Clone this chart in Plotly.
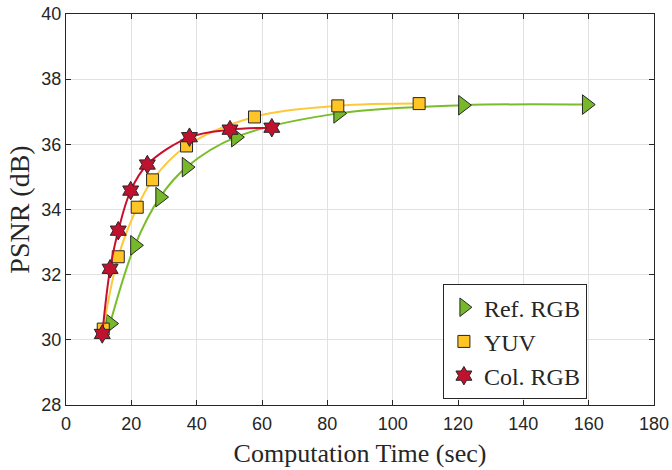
import plotly.graph_objects as go

# Data
ref_x = [13.5, 21.1, 28.8, 36.9, 52.0, 83.3, 121.5, 159.4]
ref_y = [30.50, 32.90, 34.38, 35.30, 36.22, 36.95, 37.20, 37.22]

yuv_x = [11.4, 16.0, 21.8, 26.5, 36.9, 57.7, 83.2, 108.1]
yuv_y = [30.33, 32.55, 34.07, 34.91, 35.95, 36.84, 37.18, 37.25]

col_x = [11.1, 13.5, 16.0, 19.8, 24.9, 37.8, 50.2, 63.0]
col_y = [30.18, 32.18, 33.35, 34.58, 35.38, 36.22, 36.45, 36.51]

series = [
    ("Ref. RGB", ref_x, ref_y, "#7ABD2B", "#76B82A", "triangle-right", 17),
    ("YUV", yuv_x, yuv_y, "#FFC83A", "#FFC526", "square", 12),
    ("Col. RGB", col_x, col_y, "#C8102E", "#C0122F", "hexagram", 14),
]

fig = go.Figure()
for name, xs, ys, lc, mc, sym, sz in series:
    fig.add_trace(go.Scatter(
        x=xs, y=ys, name=name, mode="lines", showlegend=False,
        line=dict(color=lc, width=2, shape="spline", smoothing=1.0),
        hoverinfo="skip",
    ))
    fig.add_trace(go.Scatter(
        x=xs, y=ys, name=name, mode="markers",
        marker=dict(symbol=sym, size=sz, color=mc,
                    line=dict(color="#262626", width=1)),
    ))

axis_common = dict(
    showline=True, linecolor="#262626", linewidth=1, mirror="ticks",
    ticks="inside", ticklen=5, tickcolor="#262626",
    showgrid=True, gridcolor="#E1E1E1", gridwidth=1,
    zeroline=False, ticklabeloverflow="allow", automargin=False,
    tickfont=dict(family="Liberation Sans, Arial", size=18, color="#262626"),
)

fig.update_xaxes(range=[0, 180], dtick=20, tick0=0, ticklabelstandoff=2,
                 title=dict(text="Computation Time (sec)",
                            font=dict(family="Liberation Serif, Times New Roman", size=26, color="#262626"),
                            standoff=11),
                 **axis_common)
fig.update_yaxes(range=[28, 40], dtick=2, tick0=28,
                 title=dict(text="PSNR (dB)",
                            font=dict(family="Liberation Serif, Times New Roman", size=28, color="#262626"),
                            standoff=3),
                 **axis_common)

fig.update_layout(
    width=672, height=470,
    margin=dict(l=66, r=18, t=14, b=65, autoexpand=False),
    plot_bgcolor="white", paper_bgcolor="white",
    showlegend=True,
    legend=dict(x=0.641, y=0.015, xanchor="left", yanchor="bottom",
                bgcolor="white", bordercolor="#262626", borderwidth=1,
                font=dict(family="Liberation Serif, Times New Roman", size=24, color="#262626"),
                tracegroupgap=0, itemwidth=30),
)

fig.write_html("out.html")
